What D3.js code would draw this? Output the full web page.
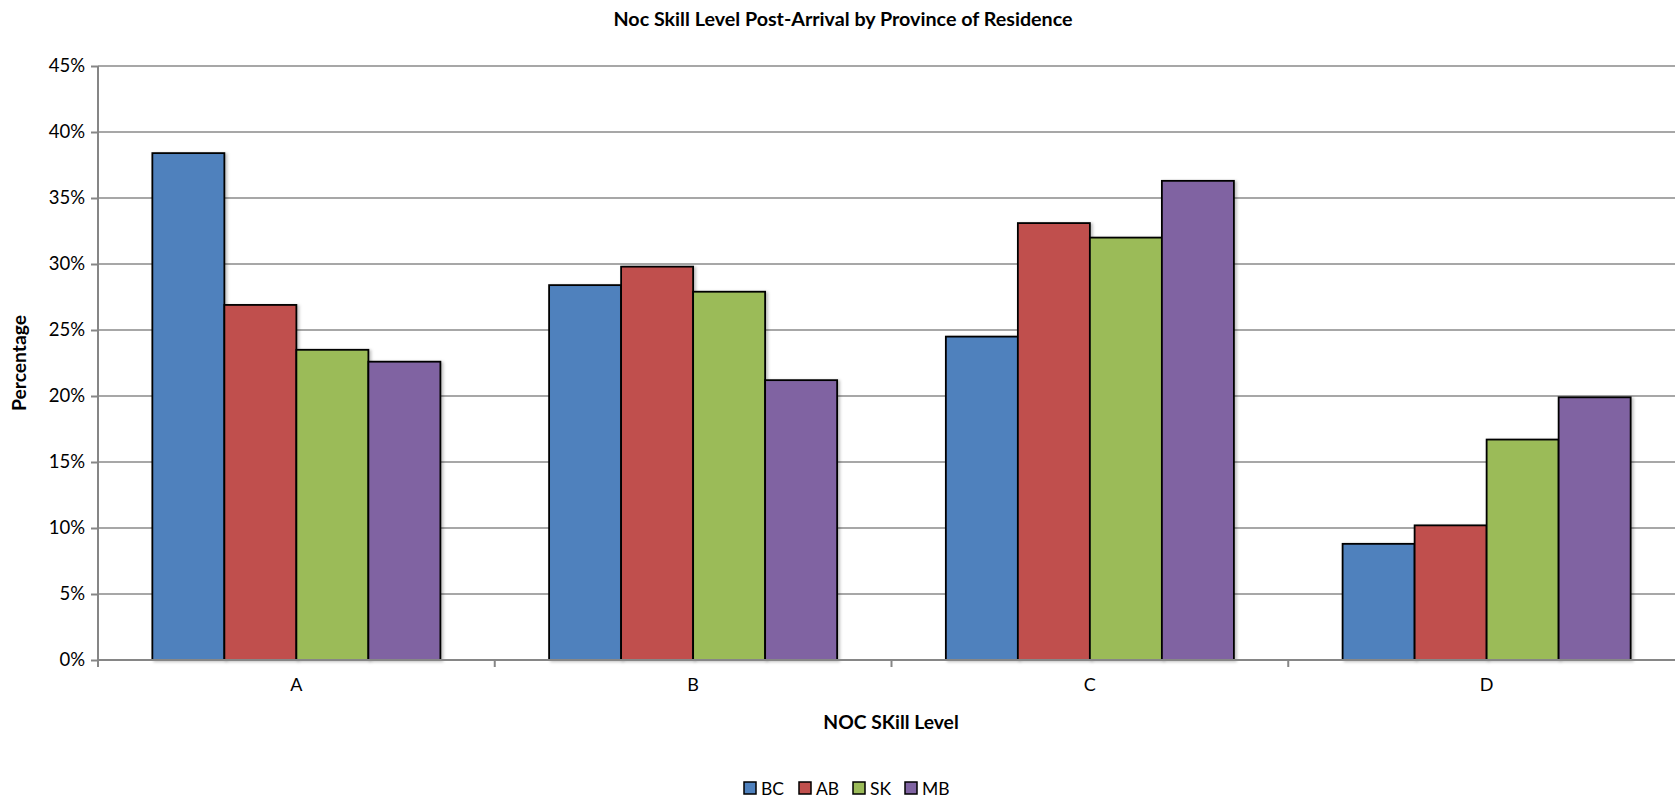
<!DOCTYPE html>
<html><head><meta charset="utf-8">
<script src="https://cdn.jsdelivr.net/npm/d3@7"></script>
<style>
html,body{margin:0;padding:0;background:#fff;overflow:hidden}
text{font-family:Lato,"Liberation Sans",sans-serif;fill:#000}
</style></head>
<body><svg id="c" width="1675" height="797"></svg>
<script>
const categories = ["A","B","C","D"];
const seriesNames = ["BC","AB","SK","MB"];
const BC = [38.4, 28.4, 24.5, 8.8];
const AB = [26.9, 29.8, 33.1, 10.2];
const SK = [23.5, 27.9, 32.0, 16.7];
const MB = [22.6, 21.2, 36.3, 19.9];
const seriesValues = [BC, AB, SK, MB];
const colors = ["#4F81BD","#C0504D","#9BBB59","#8064A2"];
const yTicks = [0,5,10,15,20,25,30,35,40,45];

const svg = d3.select("#c");
const m = {left:98, right:1685, top:66, bottom:660};

const x = d3.scaleBand().domain(categories).range([m.left, m.right]).paddingInner(0.274).paddingOuter(0.137);
const xs = d3.scaleBand().domain(seriesNames).range([0, x.bandwidth()]);
const y = d3.scaleLinear().domain([0,45]).range([m.bottom, m.top]);

// gridlines
svg.append("g").selectAll("line").data(yTicks.filter(d=>d>0)).join("line")
  .attr("x1", m.left).attr("x2", m.right)
  .attr("y1", d=>y(d)).attr("y2", d=>y(d))
  .attr("stroke","#8a8a8a").attr("stroke-width",1.5);

// y axis
const yAxis = svg.append("g").attr("transform",`translate(${m.left},0)`)
  .call(d3.axisLeft(y).tickValues(yTicks).tickFormat(d=>d+"%").tickSize(7).tickPadding(6));
yAxis.select(".domain").attr("stroke","#868686").attr("stroke-width",2).attr("d",`M0,${m.top}V${m.bottom+7}`);
yAxis.selectAll(".tick line").attr("stroke","#868686").attr("stroke-width",2);
yAxis.selectAll("text").style("font-size","18.5px").attr("fill","#000").style("font-family","Lato,sans-serif");

// bars
const defs = svg.append("defs");
const f = defs.append("filter").attr("id","sh").attr("x","-10%").attr("y","-10%").attr("width","130%").attr("height","130%");
f.append("feDropShadow").attr("dx",2).attr("dy",1).attr("stdDeviation",1.5).attr("flood-color","#000").attr("flood-opacity",0.25);

const g = svg.append("g");
seriesNames.forEach((s,si)=>{
  g.append("g").selectAll("rect").data(categories).join("rect")
    .attr("x", (c)=>x(c)+xs(s))
    .attr("width", xs.bandwidth())
    .attr("y", (c,i)=>y(seriesValues[si][i]))
    .attr("height", (c,i)=>y(0)-y(seriesValues[si][i]))
    .attr("fill", colors[si]).attr("stroke","#000").attr("stroke-width",1.8)
    .attr("filter","url(#sh)");
});

// x axis
const xAxis = svg.append("g").attr("transform",`translate(0,${m.bottom})`)
  .call(d3.axisBottom(x).tickSize(0).tickPadding(18));
xAxis.select(".domain").attr("stroke","#868686").attr("stroke-width",2).attr("d",`M${m.left},0H${m.right}`);
xAxis.selectAll("text").style("font-size","18px").style("font-family","Lato,sans-serif");
// category boundary ticks
const bounds = [];
categories.forEach((c,i)=>{ if(i>0) bounds.push(x(c) - x.step()*x.paddingInner()/2); });
xAxis.append("g").selectAll("line").data(bounds).join("line")
  .attr("x1",d=>d).attr("x2",d=>d).attr("y1",0).attr("y2",7)
  .attr("stroke","#868686").attr("stroke-width",2);

// titles
svg.append("text").attr("x",843).attr("y",26).attr("text-anchor","middle")
  .style("font-size","19.7px").style("font-weight","bold").text("Noc Skill Level Post-Arrival by Province of Residence");
svg.append("text").attr("x",891).attr("y",729).attr("text-anchor","middle")
  .style("font-size","19.3px").style("font-weight","bold").text("NOC SKill Level");
svg.append("text").attr("transform","translate(26,363) rotate(-90)").attr("text-anchor","middle")
  .style("font-size","19.3px").style("font-weight","bold").text("Percentage");

// legend
const legX = [744, 799, 853, 905];
const leg = svg.append("g");
seriesNames.forEach((s,i)=>{
  leg.append("rect").attr("x",legX[i]).attr("y",782).attr("width",12).attr("height",12)
    .attr("fill",colors[i]).attr("stroke","#000").attr("stroke-width",1.5);
  leg.append("text").attr("x",legX[i]+17).attr("y",794.5).style("font-size","17.5px").text(s);
});
</script></body></html>
